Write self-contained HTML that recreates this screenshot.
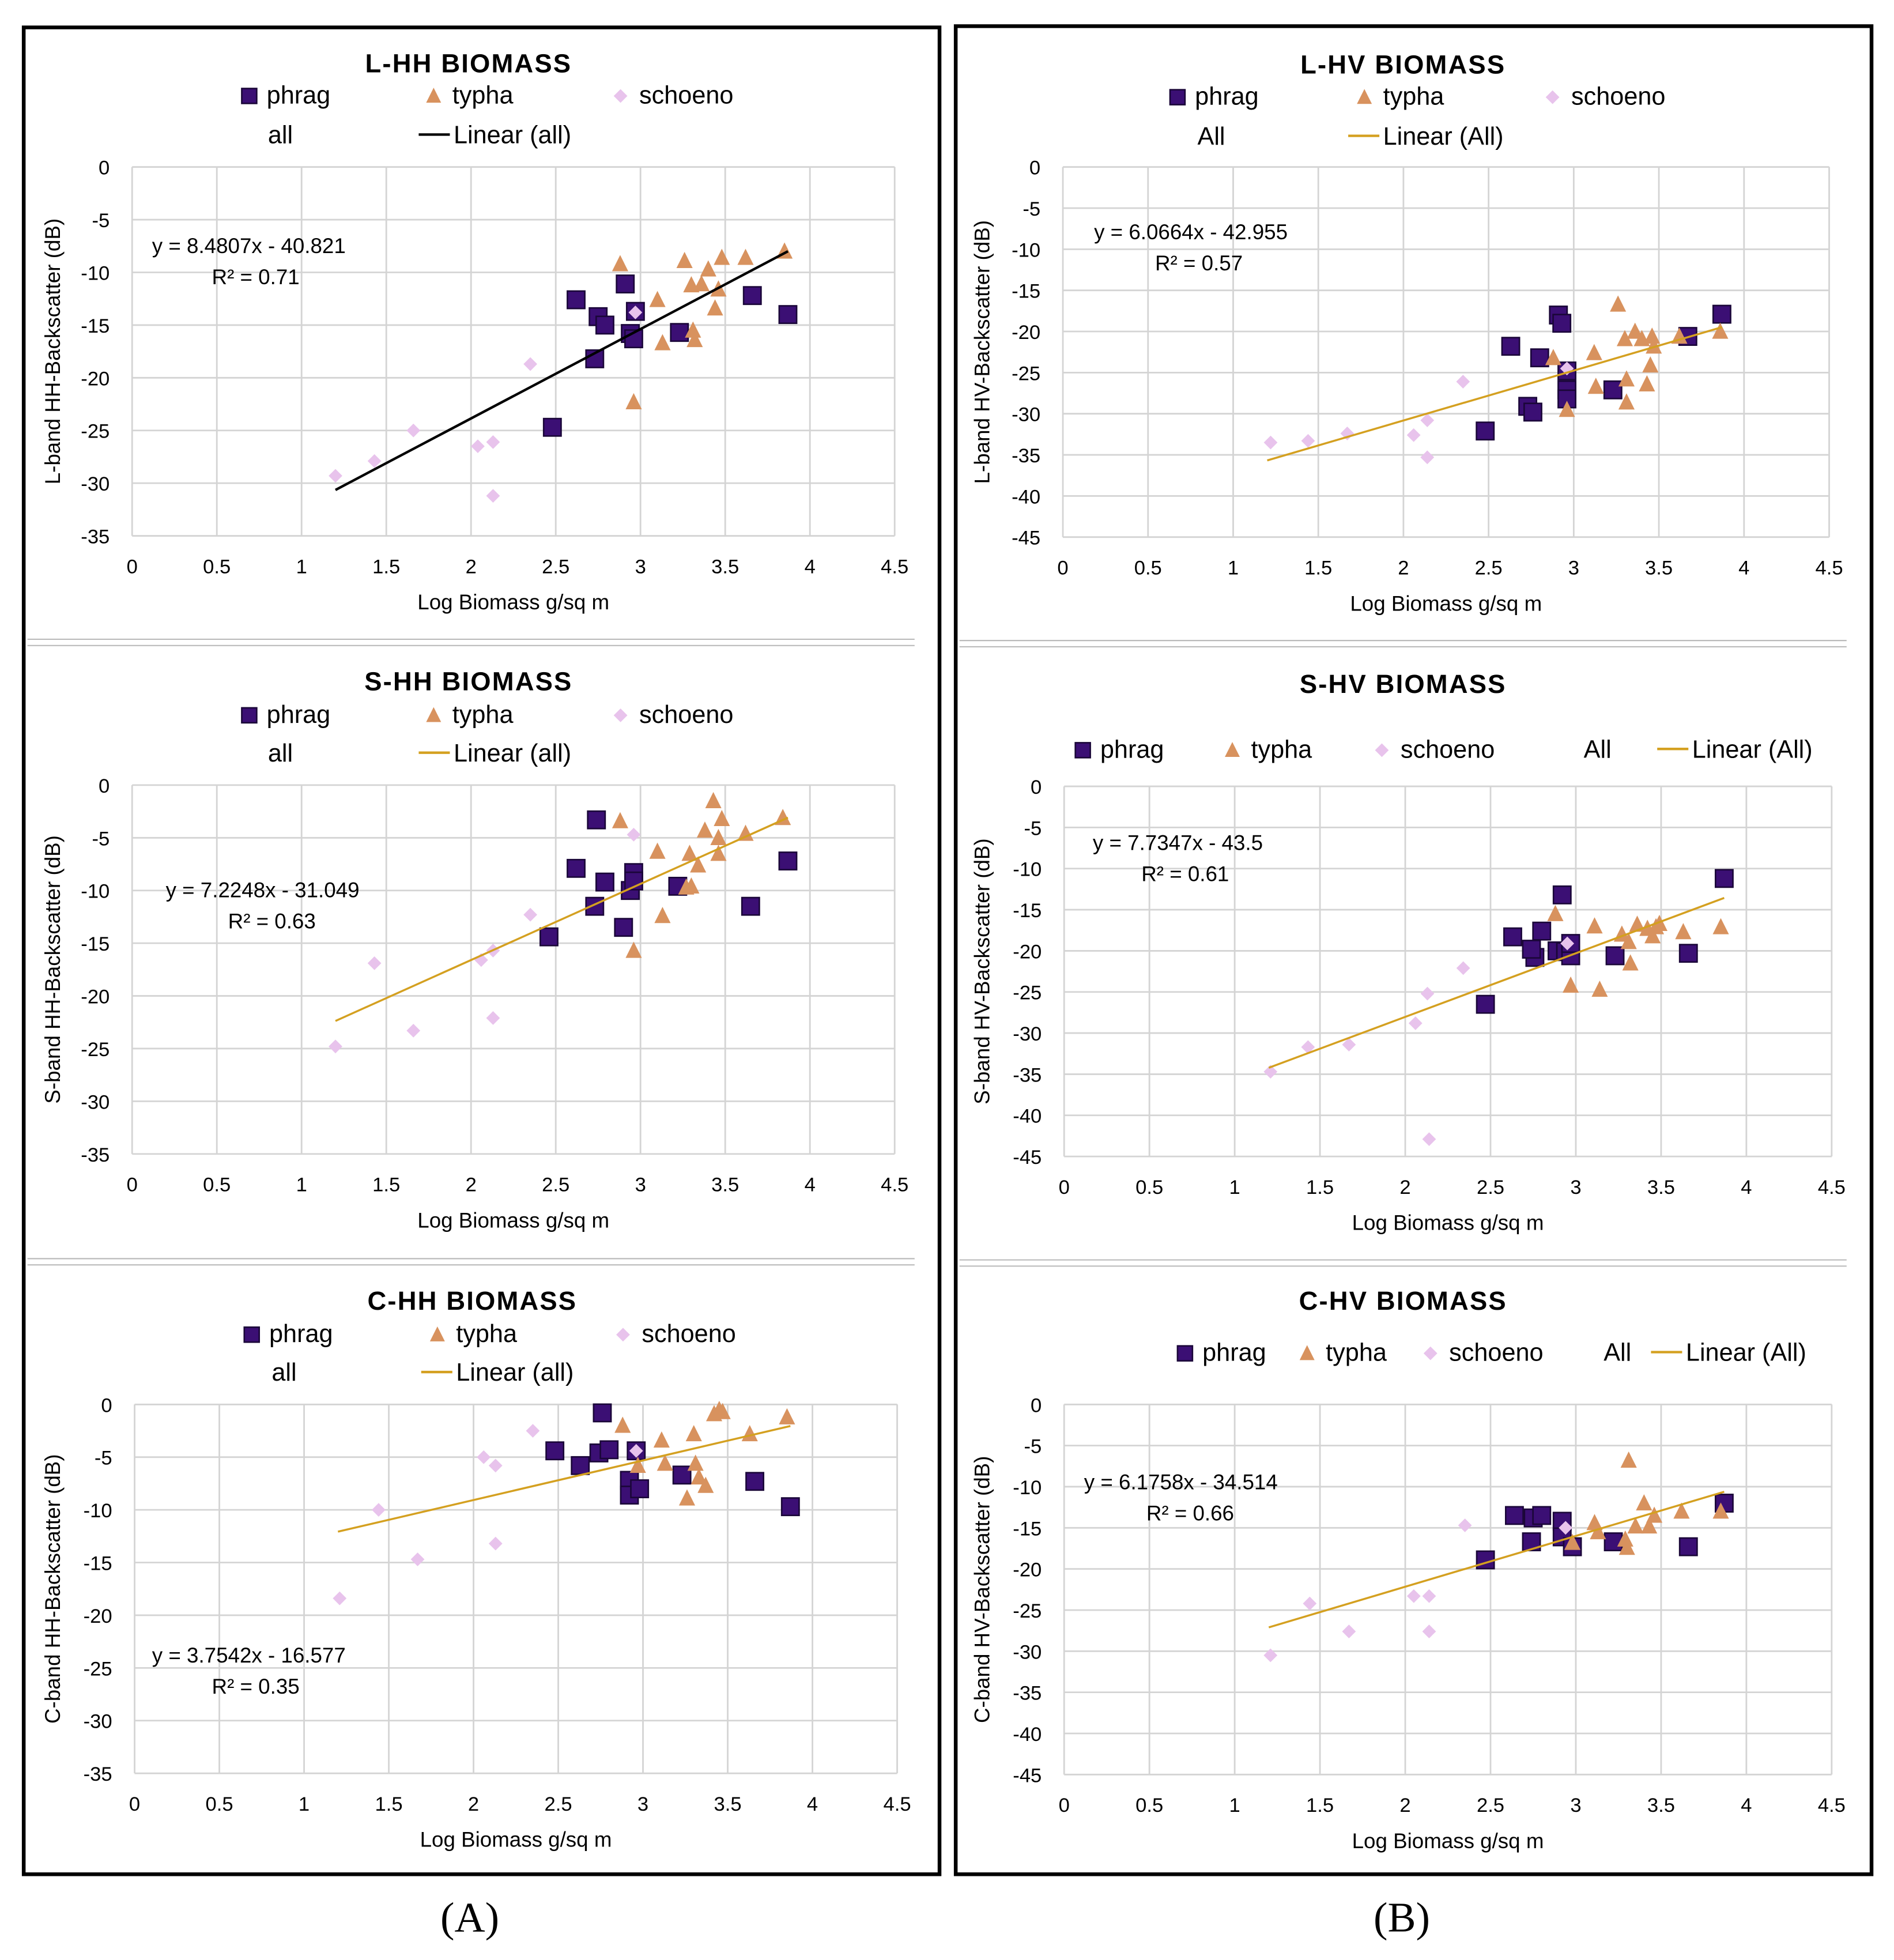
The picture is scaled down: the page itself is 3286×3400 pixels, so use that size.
<!DOCTYPE html>
<html><head><meta charset="utf-8"><style>
html,body{margin:0;padding:0;background:#fff}
svg{display:block}
text{font-family:"Liberation Sans",sans-serif;fill:#000}
</style></head><body>
<svg id="fig" width="3286" height="3400" viewBox="0 0 1520 1572.8" xmlns="http://www.w3.org/2000/svg">
<rect x="0" y="0" width="1520" height="1573" fill="#fff"/>
<rect x="19" y="22" width="735" height="1482" fill="none" stroke="#000" stroke-width="3"/>
<rect x="767" y="21" width="735" height="1483" fill="none" stroke="#000" stroke-width="3"/>
<g stroke="#bbb" stroke-width="1">
<line x1="22" y1="513" x2="734" y2="513"/><line x1="22" y1="518" x2="734" y2="518"/>
<line x1="22" y1="1010" x2="734" y2="1010"/><line x1="22" y1="1015" x2="734" y2="1015"/>
<line x1="770" y1="514" x2="1482" y2="514"/><line x1="770" y1="519" x2="1482" y2="519"/>
<line x1="770" y1="1011" x2="1482" y2="1011"/><line x1="770" y1="1016" x2="1482" y2="1016"/>
</g>
<text x="377" y="1550" text-anchor="middle" style="font-family:'Liberation Serif',serif;font-size:34px">(A)</text>
<text x="1125" y="1550" text-anchor="middle" style="font-family:'Liberation Serif',serif;font-size:34px">(B)</text>
<g id="charts"></g>
</svg>
<script>
// ---- data arrays: [logBiomass, backscatter dB] ----
const lhhPhrag=[[2.62,-12.6],[2.91,-11.1],[2.75,-14.2],[2.79,-15],[2.73,-18.2],[2.94,-15.8],[2.96,-16.3],[3.23,-15.7],[3.66,-12.2],[3.87,-14],[2.48,-24.7],[2.97,-13.7]];
const lhhTypha=[[2.88,-9.2],[3.1,-12.6],[3.13,-16.7],[2.96,-22.3],[3.26,-8.9],[3.3,-11.2],[3.31,-15.5],[3.32,-16.4],[3.36,-11.1],[3.4,-9.7],[3.44,-13.4],[3.46,-11.6],[3.48,-8.6],[3.62,-8.6],[3.85,-8]];
const lhhSchoeno=[[1.2,-29.3],[1.43,-27.9],[1.66,-25],[2.04,-26.5],[2.13,-26.1],[2.13,-31.2],[2.35,-18.7],[2.97,-13.8]];
const lhhFit=[8.4807,-40.821];

const shhPhrag=[[2.74,-3.3],[2.62,-7.9],[2.79,-9.2],[2.73,-11.5],[2.9,-13.5],[2.94,-10],[2.96,-8.3],[2.96,-9.1],[3.22,-9.6],[2.46,-14.4],[3.65,-11.5],[3.87,-7.2]];
const shhTypha=[[2.88,-3.4],[3.1,-6.3],[3.13,-12.4],[2.96,-15.7],[3.29,-6.5],[3.27,-9.7],[3.3,-9.6],[3.34,-7.6],[3.38,-4.3],[3.43,-1.5],[3.46,-6.5],[3.46,-5],[3.48,-3.2],[3.62,-4.6],[3.84,-3.1]];
const shhSchoeno=[[1.2,-24.8],[1.43,-16.9],[1.66,-23.3],[2.06,-16.6],[2.13,-15.7],[2.13,-22.1],[2.35,-12.3],[2.96,-4.7]];
const shhFit=[7.2248,-31.049];

const chhPhrag=[[2.76,-0.8],[2.48,-4.4],[2.63,-5.8],[2.74,-4.6],[2.8,-4.3],[2.96,-4.4],[2.92,-7.2],[2.92,-8.6],[2.98,-8],[3.23,-6.7],[3.66,-7.3],[3.87,-9.7]];
const chhTypha=[[2.88,-2],[3.11,-3.4],[3.13,-5.6],[2.97,-5.8],[3.26,-8.9],[3.3,-2.8],[3.31,-5.6],[3.33,-6.9],[3.37,-7.7],[3.42,-0.9],[3.45,-0.5],[3.47,-0.7],[3.63,-2.8],[3.85,-1.2]];
const chhSchoeno=[[1.21,-18.4],[1.44,-10],[1.67,-14.7],[2.06,-5],[2.13,-5.8],[2.13,-13.2],[2.35,-2.5],[2.96,-4.4]];
const chhFit=[3.7542,-16.577];

const lhvPhrag=[[2.63,-21.8],[2.8,-23.2],[2.91,-18],[2.93,-19],[2.73,-29.1],[2.76,-29.8],[2.48,-32.1],[2.96,-24.8],[2.96,-27.1],[2.96,-28.2],[3.23,-27.1],[3.67,-20.6],[3.87,-17.9]];
const lhvTypha=[[2.88,-23.2],[2.96,-29.5],[3.12,-22.6],[3.13,-26.7],[3.26,-16.7],[3.3,-20.9],[3.31,-25.8],[3.31,-28.6],[3.36,-20],[3.4,-20.9],[3.43,-26.4],[3.45,-24.1],[3.46,-20.6],[3.47,-21.8],[3.62,-20.6],[3.86,-20]];
const lhvSchoeno=[[1.22,-33.5],[1.44,-33.3],[1.67,-32.4],[2.06,-32.6],[2.14,-30.8],[2.14,-35.3],[2.35,-26.1],[2.96,-24.5]];
const lhvFit=[6.0664,-42.955];

const shvPhrag=[[2.63,-18.3],[2.76,-20.8],[2.74,-19.8],[2.8,-17.6],[2.92,-13.2],[2.89,-20],[2.94,-20.1],[2.97,-20.6],[2.97,-19.1],[3.23,-20.6],[2.47,-26.5],[3.66,-20.3],[3.87,-11.2]];
const shvTypha=[[2.88,-15.5],[2.97,-24.2],[3.11,-17],[3.14,-24.7],[3.27,-18],[3.31,-18.9],[3.32,-21.5],[3.36,-16.8],[3.42,-17.3],[3.45,-18.2],[3.47,-17.1],[3.49,-16.7],[3.63,-17.7],[3.85,-17.1]];
const shvSchoeno=[[1.21,-34.7],[1.43,-31.7],[1.67,-31.4],[2.06,-28.8],[2.13,-25.2],[2.14,-42.9],[2.34,-22.1],[2.95,-19.1]];
const shvFit=[7.7347,-43.5];

const chvPhrag=[[2.64,-13.5],[2.75,-13.8],[2.8,-13.5],[2.74,-16.7],[2.47,-18.9],[2.92,-14.2],[2.92,-16.1],[2.98,-17.3],[3.22,-16.7],[3.66,-17.3],[3.87,-12]];
const chvTypha=[[3.11,-14.4],[3.13,-15.5],[3.31,-6.8],[3.29,-16.4],[3.3,-17.4],[3.35,-14.8],[3.4,-12],[3.43,-14.8],[3.46,-13.5],[3.62,-13],[3.85,-13],[2.98,-16.8]];
const chvSchoeno=[[1.21,-30.5],[1.44,-24.2],[1.67,-27.6],[2.05,-23.3],[2.14,-23.3],[2.14,-27.6],[2.35,-14.7],[2.94,-15]];
const chvFit=[6.1758,-34.514];

const xTicks=[0,0.5,1,1.5,2,2.5,3,3.5,4,4.5];
const yTicksHH=[0,-5,-10,-15,-20,-25,-30,-35];
const yTicksHV=[0,-5,-10,-15,-20,-25,-30,-35,-40,-45];

const NS="http://www.w3.org/2000/svg";
const root=document.getElementById('charts');
function mk(tag,attrs,parent,txt){const e=document.createElementNS(NS,tag);for(const k in attrs)e.setAttribute(k,attrs[k]);if(txt!==undefined)e.textContent=txt;parent.appendChild(e);return e;}
function sq(g,x,y,s){return mk('rect',{x:x-s/2,y:y-s/2,width:s,height:s,fill:'#3b0f74',stroke:'#1a0638','stroke-width':1.2},g);}
function tri(g,x,y,s){return mk('polygon',{points:`${x},${y-s*0.55} ${x-s*0.5},${y+s*0.45} ${x+s*0.5},${y+s*0.45}`,fill:'#d8925e'},g);}
function dia(g,x,y,s){return mk('polygon',{points:`${x},${y-s/2} ${x+s/2},${y} ${x},${y+s/2} ${x-s/2},${y}`,fill:'#e8c3ec'},g);}

function chart(c){
  const g=mk('g',{},root);
  
  
  const yMin=c.yTicks[c.yTicks.length-1];
  const sx=v=>c.x0+(v-0)/4.5*(c.x1-c.x0);
  const sy=v=>c.y0+(0-v)/(0-yMin)*(c.y1-c.y0);
  const t=mk('text',{x:c.tx,y:c.ty,'text-anchor':'middle','font-size':21,'font-weight':'bold','letter-spacing':'1'},g,c.title);
  
  
  const grid=mk('g',{stroke:'#d4d4d4','stroke-width':1.3},g);
  
  
  xTicks.forEach(v=>mk('line',{x1:sx(v),x2:sx(v),y1:c.y0,y2:c.y1},grid));
  c.yTicks.forEach(v=>mk('line',{x1:c.x0,x2:c.x1,y1:sy(v),y2:sy(v)},grid));
  const xl=mk('g',{'font-size':16,'text-anchor':'middle'},g);
  
  
  xTicks.forEach(v=>mk('text',{x:sx(v),y:c.y1+30},xl,String(v)));
  const yl=mk('g',{'font-size':16,'text-anchor':'end'},g);
  
  
  c.yTicks.forEach(v=>mk('text',{x:c.x0-18,y:sy(v)+6},yl,String(v)));
  const xt=mk('text',{x:(c.x0+c.x1)/2,y:c.y1+59,'text-anchor':'middle','font-size':17},g,'Log Biomass g/sq m');
  
  
  const ycx=c.yax, ycy=(c.y0+c.y1)/2;
  const yt=mk('text',{x:ycx,y:ycy,'text-anchor':'middle','font-size':17,transform:`rotate(-90 ${ycx} ${ycy})`},g,c.ytitle);
  
  
  const pp=mk('g',{},g);
  const pt=mk('g',{},g);
  const ps=mk('g',{},g);
  c.phrag.forEach(d=>sq(pp,sx(d[0]),sy(d[1]),14));
  c.typha.forEach(d=>tri(pt,sx(d[0]),sy(d[1]),13));
  c.schoeno.forEach(d=>dia(ps,sx(d[0]),sy(d[1]),11));
  const xa=1.2, xb=3.87;
  const ln=mk('line',{x1:sx(xa),y1:sy(c.fit[0]*xa+c.fit[1]),x2:sx(xb),y2:sy(c.fit[0]*xb+c.fit[1]),stroke:c.lc,'stroke-width':c.lc==='#000'?2:1.6},g);
  
  
  const eq=mk('text',{x:c.ex,y:c.ey,'font-size':17},g,`y = ${c.fit[0]}x - ${Math.abs(c.fit[1])}`);
  
  
  const r2=mk('text',{x:c.ex+c.rdx,y:c.ey+25,'font-size':17},g,'R² = '+c.r2);
  
  
  const L=c.leg;
  const lg=mk('g',{'font-size':20},g);
  
  
  sq(lg,L.p[0]+1,L.p[1]-6,12);mk('text',{x:L.p[0]+15,y:L.p[1]},lg,'phrag');
  tri(lg,L.t[0]+1,L.t[1]-6,12);mk('text',{x:L.t[0]+16,y:L.t[1]},lg,'typha');
  dia(lg,L.s[0]+1,L.s[1]-6,11);mk('text',{x:L.s[0]+16,y:L.s[1]},lg,'schoeno');
  mk('text',{x:L.a[0],y:L.a[1]},lg,L.aText);
  mk('line',{x1:L.l[0],x2:L.l[0]+25,y1:L.l[1]-7,y2:L.l[1]-7,stroke:c.lc,'stroke-width':2},lg);
  mk('text',{x:L.l[0]+28,y:L.l[1]},lg,L.lText);
}

const hhT='HH-Backscatter (dB)', hvT='HV-Backscatter (dB)';
chart({name:'chart-l-hh',title:'L-HH BIOMASS',tx:376,ty:58,x0:106,x1:718,y0:134,y1:430,yTicks:yTicksHH,yax:48,ytitle:'L-band '+hhT,phrag:lhhPhrag,typha:lhhTypha,schoeno:lhhSchoeno,fit:lhhFit,r2:'0.71',lc:'#000',ex:122,ey:203,rdx:48,
 leg:{p:[199,83],t:[347,83],s:[497,83],a:[215,115],aText:'all',l:[336,115],lText:'Linear (all)'}});
chart({name:'chart-s-hh',title:'S-HH BIOMASS',tx:376,ty:554,x0:106,x1:718,y0:630,y1:926,yTicks:yTicksHH,yax:48,ytitle:'S-band  '+hhT,phrag:shhPhrag,typha:shhTypha,schoeno:shhSchoeno,fit:shhFit,r2:'0.63',lc:'#d4a020',ex:133,ey:720,rdx:50,
 leg:{p:[199,580],t:[347,580],s:[497,580],a:[215,611],aText:'all',l:[336,611],lText:'Linear (all)'}});
chart({name:'chart-c-hh',title:'C-HH BIOMASS',tx:379,ty:1051,x0:108,x1:720,y0:1127,y1:1423,yTicks:yTicksHH,yax:48,ytitle:'C-band  '+hhT,phrag:chhPhrag,typha:chhTypha,schoeno:chhSchoeno,fit:chhFit,r2:'0.35',lc:'#d4a020',ex:122,ey:1334,rdx:48,
 leg:{p:[201,1077],t:[350,1077],s:[499,1077],a:[218,1108],aText:'all',l:[338,1108],lText:'Linear (all)'}});
chart({name:'chart-l-hv',title:'L-HV BIOMASS',tx:1126,ty:59,x0:853,x1:1468,y0:134,y1:431,yTicks:yTicksHV,yax:794,ytitle:'L-band HV-Backscatter (dB)',phrag:lhvPhrag,typha:lhvTypha,schoeno:lhvSchoeno,fit:lhvFit,r2:'0.57',lc:'#d4a020',ex:878,ey:192,rdx:49,
 leg:{p:[944,84],t:[1094,84],s:[1245,84],a:[961,116],aText:'All',l:[1082,116],lText:'Linear (All)'}});
chart({name:'chart-s-hv',title:'S-HV BIOMASS',tx:1126,ty:556,x0:854,x1:1470,y0:631,y1:928,yTicks:yTicksHV,yax:794,ytitle:'S-band  '+hvT,phrag:shvPhrag,typha:shvTypha,schoeno:shvSchoeno,fit:shvFit,r2:'0.61',lc:'#d4a020',ex:877,ey:682,rdx:39,
 leg:{p:[868,608],t:[988,608],s:[1108,608],a:[1271,608],aText:'All',l:[1330,608],lText:'Linear (All)'}});
chart({name:'chart-c-hv',title:'C-HV BIOMASS',tx:1126,ty:1051,x0:854,x1:1470,y0:1127,y1:1424,yTicks:yTicksHV,yax:794,ytitle:'C-band  '+hvT,phrag:chvPhrag,typha:chvTypha,schoeno:chvSchoeno,fit:chvFit,r2:'0.66',lc:'#d4a020',ex:870,ey:1195,rdx:50,
 leg:{p:[950,1092],t:[1048,1092],s:[1147,1092],a:[1287,1092],aText:'All',l:[1325,1092],lText:'Linear (All)'}});
</script>
</body></html>
